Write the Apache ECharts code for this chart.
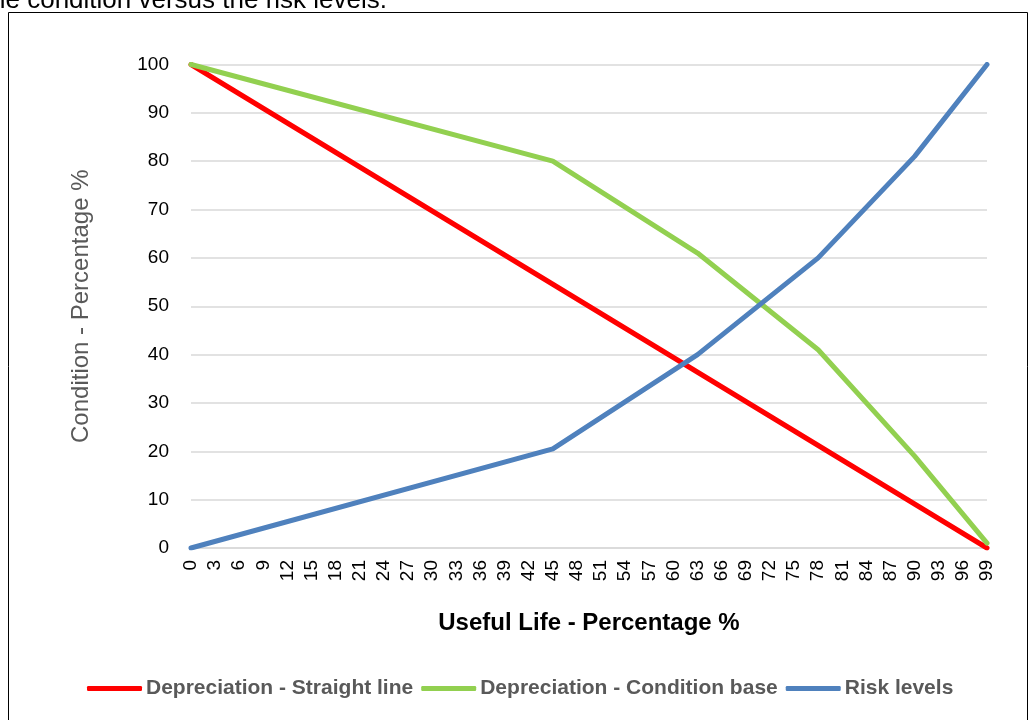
<!DOCTYPE html>
<html>
<head>
<meta charset="utf-8">
<title>Depreciation and risk over useful life</title>
<script src="https://cdn.jsdelivr.net/npm/echarts@6/dist/echarts.min.js"></script>
<style>
  html, body { margin: 0; padding: 0; background: #ffffff; }
  #chart { width: 1034px; height: 720px; }
</style>
</head>
<body>
<div id="chart"></div>
<script>
// Useful life (%) at each vertex, and condition / risk (%) at those points
const straightLineLife = [0, 99];
const straightLineValues = [100, 0];

const conditionLife = [0, 45, 63, 78, 90, 99];
const conditionValues = [100, 80, 61, 41, 19, 1];

const riskLife = [0, 45, 63, 78, 90, 99];
const riskValues = [0, 20.5, 40, 60, 81, 100];

const seriesNames = [
  'Depreciation - Straight line',
  'Depreciation - Condition base',
  'Risk levels'
];
const seriesColors = ['#FF0000', '#92D050', '#4F81BD'];

const FONT = 'Liberation Sans, Arial, sans-serif';

function pairs(xs, ys) {
  return xs.map((x, i) => [x, ys[i]]);
}

const chart = echarts.init(document.getElementById('chart'));

const lineSeries = [
  pairs(straightLineLife, straightLineValues),
  pairs(conditionLife, conditionValues),
  pairs(riskLife, riskValues)
].map((data, i) => ({
  name: seriesNames[i],
  type: 'line',
  data: data,
  showSymbol: false,
  symbol: 'none',
  color: seriesColors[i],
  lineStyle: { width: 5, color: seriesColors[i], cap: 'round', join: 'round' },
  animation: false
}));

chart.setOption({
  animation: false,
  backgroundColor: '#ffffff',
  textStyle: { fontFamily: FONT },
  graphic: [
    {
      type: 'text',
      right: 1034 - 387,
      top: -12,
      style: {
        text: 'the condition versus the risk levels.',
        font: '26px "Liberation Sans", Arial, sans-serif',
        fill: '#000000',
        align: 'right'
      }
    },
    {
      type: 'rect',
      shape: { x: 8.5, y: 12.5, width: 1019, height: 720 },
      style: { fill: 'none', stroke: '#000000', lineWidth: 1 },
      silent: true
    }
  ],
  grid: {
    left: 191,
    right: 47,
    top: 64.5,
    bottom: 172,
    containLabel: false
  },
  legend: {
    top: 673,
    left: 82,
    itemWidth: 55,
    itemHeight: 5,
    itemGap: 8,
    icon: 'roundRect',
    textStyle: {
      fontSize: 21,
      fontWeight: 'bold',
      color: '#595959',
      fontFamily: FONT,
      padding: [0, 0, 0, -1]
    },
    data: seriesNames
  },
  xAxis: {
    type: 'value',
    min: 0,
    max: 99,
    interval: 3,
    name: 'Useful Life - Percentage %',
    nameLocation: 'middle',
    nameGap: 63,
    nameTextStyle: {
      fontSize: 24,
      fontWeight: 'bold',
      color: '#000000',
      fontFamily: FONT
    },
    axisLine: { show: true, lineStyle: { color: '#D9D9D9', width: 1.5 } },
    axisTick: { show: false },
    splitLine: { show: false },
    axisLabel: {
      rotate: 90,
      fontSize: 19,
      color: '#000000',
      margin: 12,
      fontFamily: FONT
    }
  },
  yAxis: {
    type: 'value',
    min: 0,
    max: 100,
    interval: 10,
    name: 'Condition - Percentage %',
    nameLocation: 'middle',
    nameGap: 98,
    nameTextStyle: {
      fontSize: 24,
      color: '#595959',
      fontFamily: FONT
    },
    axisLine: { show: false },
    axisTick: { show: false },
    splitLine: { show: true, lineStyle: { color: '#D9D9D9', width: 1.5 } },
    axisLabel: {
      fontSize: 19,
      color: '#000000',
      margin: 22,
      fontFamily: FONT
    }
  },
  series: lineSeries
});
</script>
</body>
</html>
